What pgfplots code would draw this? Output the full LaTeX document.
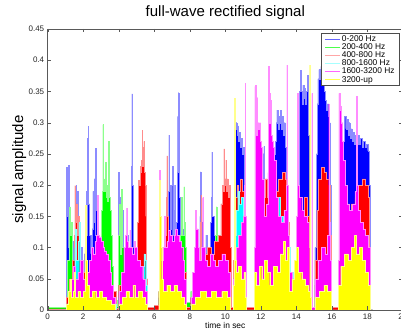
\documentclass[border=0pt]{standalone}
\usepackage{fontspec}
\setmainfont{Liberation Sans}
\usepackage{pgfplots}
\pgfplotsset{compat=1.18}
\definecolor{mblue}{rgb}{0,0,1}
\definecolor{mgreen}{rgb}{0,1,0}
\definecolor{mred}{rgb}{1,0,0}
\definecolor{mcyan}{rgb}{0,1,1}
\definecolor{mmag}{rgb}{1,0,1}
\definecolor{myel}{rgb}{1,1,0}
\begin{document}
\begin{tikzpicture}
\begin{axis}[name=ax, scale only axis, width=355.2pt, height=281pt,
  xmin=0, xmax=20, ymin=0, ymax=0.45,
  xtick={0,2,4,6,8,10,12,14,16,18,20},
  xticklabels={0,2,4,6,8,10,12,14,16,18,20},
  ytick={0,0.05,0.1,0.15,0.2,0.25,0.3,0.35,0.4,0.45},
  yticklabels={0,0.05,0.1,0.15,0.2,0.25,0.3,0.35,0.4,0.45},
  tick label style={font=\fontsize{8}{9}\selectfont, text=black!85},
  title={full-wave rectified signal},
  title style={font=\fontsize{15}{17}\selectfont},
  xlabel={time in sec},
  xlabel style={font=\fontsize{8.4}{10}\selectfont, at={(rel axis cs:0.5,0)}, anchor=base, yshift=-19pt},
  ylabel={signal amplitude},
  ylabel style={font=\fontsize{15}{17}\selectfont, at={(axis description cs:-0.0695,0.5)}, anchor=base},
  axis line style={black!65}, tick style={black!65},
  major tick length=3.5pt, tick align=inside,
  axis on top,
  legend style={at={(0.99,0.985)}, anchor=north east,
    font=\fontsize{8.4}{9}\selectfont, draw=black!70, fill=white,
    nodes={inner ysep=0.5pt, inner xsep=1.5pt},
    row sep=-0.2pt, inner xsep=3pt, inner ysep=1.5pt},
  legend cell align=left,
  legend image code/.code={\draw[#1] (0pt,0pt) -- (15pt,0pt);},
  /pgf/number format/assume math mode=true,
]
% 0-200 Hz
\addplot[const plot, fill=mblue, draw=mblue!45!white, line width=0.3pt, forget plot] coordinates {
(0,0)(1.04,0.03)(1.06,0.229)(1.09,0.15)(1.13,0.10)(1.16,0.232)(1.19,0.16)(1.23,0.09)(1.30,0.07)(1.37,0.11)(1.41,0.06)(1.50,0.08)(1.57,0.15)(1.60,0.20)(1.63,0.11)(1.68,0.19)(1.71,0.09)(1.80,0.07)(1.90,0.10)(1.95,0.05)(2.05,0.09)(2.11,0.14)(2.16,0.19)(2.19,0.12)(2.24,0.275)(2.27,0.294)(2.30,0.17)(2.35,0.12)(2.42,0.09)(2.50,0.13)(2.55,0.19)(2.58,0.14)(2.62,0.21)(2.65,0.12)(2.69,0.259)(2.72,0.16)(2.77,0.16)(2.81,0.10)(2.90,0.08)(3.00,0.06)(3.20,0.05)(3.50,0.04)(3.70,0.02)(3.85,0)
(3.97,0.10)(3.99,0.22)(4.02,0.15)(4.07,0.18)(4.11,0.12)(4.19,0.16)(4.24,0.10)(4.35,0.08)(4.45,0.12)(4.55,0.07)(4.65,0.10)(4.71,0.23)(4.74,0.346)(4.77,0.20)(4.81,0.10)(4.90,0.08)(5.00,0.06)(5.10,0.05)(5.30,0.04)(5.50,0.02)(5.60,0)
(6.25,0.02)(6.40,0.05)(6.50,0.08)(6.60,0.10)(6.70,0.14)(6.77,0.19)(6.82,0.28)(6.85,0.20)(6.89,0.13)(6.97,0.20)(7.01,0.23)(7.04,0.12)(7.11,0.16)(7.15,0.20)(7.18,0.10)(7.24,0.14)(7.29,0.22)(7.32,0.31)(7.36,0.348)(7.39,0.18)(7.44,0.10)(7.51,0.13)(7.60,0.08)(7.70,0.06)(7.80,0)
(8.05,0.01)(8.20,0.04)(8.40,0.06)(8.50,0.09)(8.57,0.15)(8.60,0.221)(8.63,0.14)(8.70,0.10)(8.80,0.08)(8.90,0.12)(8.95,0.07)(9.05,0.10)(9.15,0.14)(9.21,0.18)(9.24,0.253)(9.27,0.15)(9.35,0.12)(9.45,0.08)(9.60,0.06)(9.80,0.07)(10.00,0.05)(10.20,0.03)(10.30,0)
(10.45,0.05)(10.50,0.28)(10.53,0.315)(10.57,0.29)(10.61,0.30)(10.65,0.28)(10.69,0.295)(10.74,0.27)(10.79,0.285)(10.84,0.26)(10.89,0.275)(10.94,0.25)(10.99,0.26)(11.04,0.20)(11.09,0.05)(11.20,0)
(11.65,0.05)(11.80,0.10)(11.95,0.15)(12.05,0.20)(12.12,0.25)(12.17,0.262)(12.21,0.20)(12.30,0.15)(12.40,0.16)(12.50,0.18)(12.60,0.22)(12.70,0.25)(12.80,0.27)(12.87,0.30)(12.91,0.32)(12.96,0.29)(13.01,0.31)(13.06,0.30)(13.11,0.32)(13.16,0.29)(13.21,0.31)(13.27,0.28)(13.32,0.30)(13.37,0.26)(13.44,0.20)(13.51,0.12)(13.60,0)
(14.00,0.10)(14.07,0.20)(14.13,0.30)(14.18,0.35)(14.23,0.384)(14.27,0.35)(14.32,0.33)(14.37,0.36)(14.42,0.34)(14.47,0.355)(14.52,0.33)(14.57,0.35)(14.61,0.376)(14.65,0.34)(14.69,0.28)(14.74,0.15)(14.80,0)
(15.05,0.10)(15.12,0.25)(15.17,0.33)(15.21,0.37)(15.27,0.385)(15.33,0.37)(15.38,0.39)(15.43,0.36)(15.50,0.375)(15.55,0.35)(15.60,0.34)(15.65,0.336)(15.70,0.32)(15.75,0.33)(15.80,0.31)(15.85,0.30)(15.90,0.20)(15.95,0)
(16.35,0.05)(16.45,0.15)(16.55,0.22)(16.65,0.27)(16.72,0.31)(16.78,0.29)(16.84,0.305)(16.90,0.28)(16.96,0.30)(17.02,0.275)(17.08,0.29)(17.14,0.27)(17.20,0.285)(17.26,0.265)(17.32,0.28)(17.40,0.265)(17.48,0.28)(17.55,0.265)(17.62,0.275)(17.70,0.26)(17.78,0.27)(17.86,0.26)(17.94,0.265)(18.02,0.255)(18.08,0.20)(18.15,0)(18.3,0)
} \closedcycle;
% 200-400 Hz
\addplot[const plot, fill=mgreen, draw=mgreen!45!white, line width=0.3pt, forget plot] coordinates {
(0,0.004)(1.05,0.02)(1.12,0.08)(1.19,0.15)(1.23,0.165)(1.27,0.12)(1.32,0.14)(1.37,0.06)(1.50,0.04)(1.70,0.05)(1.90,0.07)(2.00,0.03)(2.20,0.05)(2.50,0.04)(2.80,0.06)(2.95,0.10)(3.01,0.16)(3.07,0.19)(3.11,0.297)(3.14,0.21)(3.19,0.19)(3.24,0.237)(3.27,0.18)(3.32,0.20)(3.37,0.175)(3.42,0.27)(3.45,0.18)(3.51,0.16)(3.57,0.12)(3.63,0.07)(3.70,0.03)(3.80,0.015)(3.92,0.006)(3.99,0.12)(4.04,0.17)(4.09,0.09)(4.16,0.193)(4.20,0.10)(4.30,0.06)(4.50,0.05)(4.70,0.04)(5.00,0.03)(5.40,0.02)(5.60,0.003)(6.25,0.03)(6.50,0.06)(6.80,0.08)(7.00,0.07)(7.20,0.09)(7.45,0.12)(7.54,0.18)(7.58,0.12)(7.67,0.197)(7.71,0.14)(7.75,0.10)(7.81,0.012)(8.05,0.03)(8.20,0.05)(8.60,0.07)(8.90,0.09)(9.20,0.08)(9.44,0.12)(9.49,0.165)(9.53,0.10)(9.70,0.07)(10.00,0.05)(10.30,0.004)(10.45,0.05)(11.10,0.004)(11.65,0.04)(13.60,0.004)(14.00,0.04)(14.80,0.004)(15.05,0.04)(15.95,0.004)(16.35,0.04)(18.15,0)(18.3,0)
} \closedcycle;
% 400-800 Hz
\addplot[const plot, fill=mred, draw=mred!45!white, line width=0.3pt, forget plot] coordinates {
(0,0.002)(1.05,0.02)(1.20,0.05)(1.40,0.08)(1.50,0.12)(1.53,0.199)(1.56,0.14)(1.62,0.17)(1.66,0.12)(1.73,0.15)(1.78,0.08)(1.90,0.06)(2.10,0.05)(2.40,0.06)(2.70,0.05)(3.00,0.04)(3.50,0.03)(3.85,0.003)(4.00,0.04)(4.30,0.06)(4.60,0.08)(4.90,0.10)(5.05,0.14)(5.12,0.208)(5.16,0.20)(5.20,0.23)(5.25,0.22)(5.28,0.24)(5.31,0.288)(5.34,0.23)(5.38,0.26)(5.41,0.27)(5.44,0.22)(5.48,0.20)(5.52,0.15)(5.56,0.05)(5.62,0.004)(6.00,0.008)(6.30,0.04)(6.50,0.08)(6.62,0.12)(6.68,0.18)(6.71,0.247)(6.74,0.15)(6.80,0.10)(7.00,0.09)(7.30,0.08)(7.60,0.06)(7.80,0.004)(8.05,0.02)(8.25,0.08)(8.30,0.12)(8.34,0.06)(8.50,0.08)(8.58,0.14)(8.62,0.184)(8.65,0.10)(8.80,0.09)(9.00,0.10)(9.20,0.09)(9.40,0.11)(9.60,0.12)(9.75,0.17)(9.82,0.20)(9.88,0.19)(9.92,0.258)(9.95,0.21)(10.00,0.20)(10.03,0.24)(10.06,0.19)(10.12,0.21)(10.16,0.18)(10.22,0.20)(10.28,0.10)(10.33,0.004)(10.45,0.08)(10.55,0.18)(10.65,0.20)(10.75,0.19)(10.85,0.21)(10.95,0.19)(11.05,0.12)(11.12,0.004)(11.65,0.05)(11.90,0.12)(12.10,0.18)(12.25,0.21)(12.35,0.18)(12.45,0.14)(12.60,0.16)(12.80,0.19)(13.00,0.21)(13.20,0.22)(13.35,0.21)(13.45,0.20)(13.52,0.14)(13.58,0.004)(14.00,0.06)(14.15,0.12)(14.30,0.16)(14.45,0.18)(14.60,0.15)(14.72,0.10)(14.80,0.004)(15.05,0.08)(15.15,0.16)(15.25,0.21)(15.40,0.229)(15.55,0.22)(15.70,0.21)(15.82,0.20)(15.90,0.12)(15.95,0.004)(16.35,0.04)(16.50,0.10)(16.70,0.14)(16.90,0.16)(17.10,0.17)(17.30,0.18)(17.50,0.20)(17.70,0.21)(17.90,0.20)(18.05,0.18)(18.12,0.08)(18.16,0)(18.3,0)
} \closedcycle;
% 800-1600 Hz
\addplot[const plot, fill=mcyan, draw=mcyan!45!white, line width=0.3pt, forget plot] coordinates {
(0,0)(1.05,0.01)(1.20,0.03)(1.40,0.05)(1.52,0.10)(1.56,0.13)(1.60,0.08)(1.72,0.11)(1.76,0.14)(1.80,0.06)(2.00,0.04)(2.30,0.05)(2.60,0.04)(3.00,0.03)(3.60,0.01)(3.85,0)(4.00,0.02)(4.50,0.04)(5.00,0.05)(5.30,0.07)(5.42,0.09)(5.47,0.08)(5.52,0.04)(5.60,0)(6.30,0.02)(6.60,0.04)(7.00,0.05)(7.40,0.04)(7.80,0)(8.05,0.01)(8.50,0.03)(9.00,0.04)(9.50,0.04)(9.75,0.06)(9.85,0.07)(10.00,0.06)(10.15,0.04)(10.30,0)(10.45,0.05)(10.55,0.12)(10.62,0.16)(10.70,0.19)(10.80,0.17)(10.90,0.18)(11.00,0.15)(11.08,0.05)(11.15,0)(11.65,0.03)(12.00,0.06)(12.30,0.08)(12.60,0.12)(12.80,0.16)(12.95,0.18)(13.10,0.15)(13.25,0.12)(13.45,0.08)(13.58,0.10)(13.65,0.06)(13.80,0.04)(14.00,0.07)(14.20,0.08)(14.35,0.10)(14.50,0.08)(14.65,0.06)(14.78,0)(15.05,0.02)(15.30,0.04)(15.55,0.06)(15.75,0.08)(15.90,0.05)(15.95,0)(16.35,0.02)(16.60,0.05)(16.90,0.07)(17.20,0.08)(17.50,0.09)(17.75,0.10)(17.90,0.12)(18.00,0.10)(18.10,0.08)(18.15,0)(18.3,0)
} \closedcycle;
% 1600-3200 Hz
\addplot[const plot, fill=mmag, draw=mmag!45!white, line width=0.3pt, forget plot] coordinates {
(0,0)(1.05,0.01)(1.15,0.03)(1.30,0.05)(1.45,0.07)(1.55,0.05)(1.70,0.06)(1.85,0.08)(2.00,0.05)(2.20,0.06)(2.35,0.08)(2.45,0.10)(2.55,0.09)(2.65,0.11)(2.75,0.12)(2.80,0.184)(2.83,0.12)(2.90,0.117)(3.00,0.11)(3.10,0.10)(3.20,0.095)(3.30,0.09)(3.40,0.08)(3.50,0.06)(3.60,0.04)(3.68,0.02)(3.78,0)(4.00,0.03)(4.15,0.06)(4.28,0.10)(4.38,0.12)(4.45,0.163)(4.49,0.11)(4.55,0.10)(4.62,0.128)(4.66,0.10)(4.75,0.09)(4.85,0.11)(4.95,0.10)(5.05,0.08)(5.20,0.07)(5.35,0.05)(5.50,0.03)(5.60,0)(6.25,0.03)(6.28,0.224)(6.31,0.10)(6.40,0.08)(6.50,0.10)(6.58,0.15)(6.62,0.10)(6.70,0.11)(6.80,0.128)(6.90,0.12)(7.00,0.11)(7.10,0.12)(7.20,0.13)(7.30,0.12)(7.40,0.11)(7.50,0.10)(7.60,0.08)(7.70,0.05)(7.82,0)(8.05,0.02)(8.15,0.06)(8.25,0.10)(8.32,0.16)(8.36,0.13)(8.45,0.10)(8.55,0.08)(8.65,0.10)(8.73,0.18)(8.77,0.10)(8.85,0.08)(9.00,0.07)(9.15,0.09)(9.30,0.08)(9.45,0.07)(9.60,0.08)(9.80,0.09)(10.00,0.08)(10.15,0.06)(10.30,0)(10.45,0.05)(10.60,0.10)(10.75,0.12)(10.90,0.14)(11.00,0.15)(11.08,0.20)(11.11,0.363)(11.14,0.15)(11.20,0)(11.65,0.10)(11.67,0.358)(11.70,0.36)(11.73,0.28)(11.79,0.34)(11.82,0.30)(11.87,0.29)(11.93,0.30)(11.98,0.27)(12.04,0.26)(12.10,0.21)(12.18,0.15)(12.30,0.17)(12.40,0.22)(12.44,0.39)(12.47,0.30)(12.50,0.347)(12.53,0.336)(12.56,0.28)(12.62,0.27)(12.68,0.26)(12.75,0.24)(12.85,0.18)(13.00,0.15)(13.15,0.14)(13.30,0.16)(13.42,0.20)(13.47,0.392)(13.50,0.20)(13.56,0.12)(13.62,0.06)(13.75,0.05)(13.90,0.08)(14.00,0.15)(14.05,0.347)(14.08,0.20)(14.15,0.18)(14.30,0.16)(14.45,0.15)(14.60,0.14)(14.72,0.10)(14.80,0.004)(14.87,0.347)(14.90,0.004)(15.05,0.05)(15.20,0.08)(15.40,0.10)(15.60,0.09)(15.75,0.12)(15.82,0.33)(15.85,0.14)(15.92,0.08)(15.96,0)(16.35,0.08)(16.40,0.347)(16.44,0.32)(16.50,0.326)(16.54,0.30)(16.60,0.27)(16.66,0.24)(16.75,0.20)(16.85,0.17)(17.00,0.16)(17.15,0.17)(17.30,0.19)(17.37,0.342)(17.41,0.20)(17.48,0.16)(17.60,0.14)(17.75,0.13)(17.90,0.12)(18.05,0.10)(18.15,0)(18.3,0)
} \closedcycle;
% 3200-up
\addplot[const plot, fill=myel, draw=myel!45!white, line width=0.3pt, forget plot] coordinates {
(0,0)(1.05,0.01)(1.15,0.03)(1.25,0.05)(1.30,0.02)(1.45,0.03)(1.50,0.06)(1.55,0.02)(1.70,0.03)(1.85,0.02)(2.00,0.03)(2.10,0.10)(2.13,0.168)(2.16,0.08)(2.22,0.04)(2.35,0.02)(2.50,0.03)(2.70,0.02)(2.90,0.03)(3.05,0.02)(3.30,0.015)(3.60,0.01)(3.80,0)(4.00,0.01)(4.20,0.02)(4.40,0.03)(4.60,0.02)(4.80,0.04)(4.90,0.02)(5.10,0.03)(5.30,0.02)(5.50,0.01)(5.60,0)(6.25,0.03)(6.30,0.208)(6.33,0.15)(6.38,0.10)(6.42,0.05)(6.50,0.03)(6.70,0.04)(6.90,0.03)(7.10,0.04)(7.30,0.03)(7.50,0.02)(7.70,0.01)(7.82,0)(8.05,0.01)(8.30,0.02)(8.60,0.03)(8.90,0.02)(9.20,0.03)(9.50,0.02)(9.80,0.03)(10.10,0.02)(10.30,0)(10.45,0.04)(10.50,0.339)(10.53,0.08)(10.60,0.06)(10.75,0.07)(10.90,0.05)(11.05,0.06)(11.12,0.02)(11.20,0)(11.65,0.06)(11.75,0.04)(11.90,0.07)(12.05,0.05)(12.20,0.08)(12.35,0.06)(12.50,0.04)(12.70,0.07)(12.90,0.06)(13.10,0.09)(13.25,0.11)(13.35,0.08)(13.50,0.10)(13.62,0.03)(13.75,0.05)(13.90,0.08)(14.00,0.10)(14.10,0.06)(14.30,0.05)(14.50,0.04)(14.65,0.03)(14.75,0.392)(14.78,0.02)(14.85,0)(15.05,0.02)(15.30,0.03)(15.55,0.04)(15.75,0.03)(15.95,0)(16.35,0.04)(16.50,0.07)(16.70,0.09)(16.90,0.08)(17.10,0.10)(17.25,0.12)(17.35,0.09)(17.55,0.10)(17.70,0.08)(17.90,0.06)(18.05,0.04)(18.15,0)(18.3,0)
} \closedcycle;
\addlegendimage{mblue!60!white, line width=0.9pt}\addlegendentry{0-200 Hz}
\addlegendimage{mgreen!70!white, line width=0.9pt}\addlegendentry{200-400 Hz}
\addlegendimage{mred!35!white, line width=1.2pt}\addlegendentry{400-800 Hz}
\addlegendimage{mcyan!35!white, line width=1.2pt}\addlegendentry{800-1600 Hz}
\addlegendimage{mmag!60!white, line width=0.9pt}\addlegendentry{1600-3200 Hz}
\addlegendimage{myel!70!white, line width=0.9pt}\addlegendentry{3200-up}
\end{axis}
\pgfresetboundingbox
\path ([xshift=-47.7pt,yshift=-21pt]ax.south west) rectangle ([xshift=353.3pt,yshift=29pt]ax.north west);
\end{tikzpicture}
\end{document}
